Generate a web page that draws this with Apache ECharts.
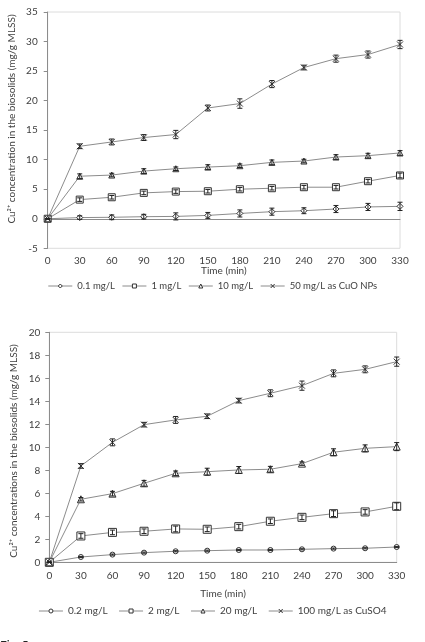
<!DOCTYPE html>
<html>
<head>
<meta charset="utf-8">
<script src="https://cdn.jsdelivr.net/npm/echarts@6/dist/echarts.min.js"></script>
<style>
  html, body { margin: 0; padding: 0; background: #fff; }
  #main { width: 425px; height: 642px; }
</style>
</head>
<body>
<div id="main"></div>
<script>
// time points (min), shared by both panels
const times = [0, 30, 60, 90, 120, 150, 180, 210, 240, 270, 300, 330];

// top panel: CuO NPs
const cuo01 = [0, 0.2, 0.25, 0.35, 0.4, 0.57, 0.9, 1.2, 1.36, 1.65, 2.0, 2.1];
const cuo1 = [0, 3.24, 3.64, 4.38, 4.6, 4.66, 5.0, 5.17, 5.34, 5.34, 6.36, 7.33];
const cuo10 = [0, 7.2, 7.4, 8.07, 8.47, 8.75, 8.98, 9.55, 9.77, 10.45, 10.68, 11.14];
const cuo50 = [0, 12.27, 13.0, 13.75, 14.26, 18.75, 19.5, 22.8, 25.6, 27.1, 27.8, 29.5];
const cuo01Err = [0, 0.3, 0.4, 0.4, 0.6, 0.5, 0.6, 0.6, 0.5, 0.6, 0.6, 0.7];
const cuo1Err = [0, 0.3, 0.3, 0.3, 0.3, 0.3, 0.3, 0.3, 0.3, 0.3, 0.3, 0.4];
const cuo10Err = [0, 0.4, 0.3, 0.4, 0.3, 0.4, 0.3, 0.4, 0.3, 0.4, 0.4, 0.4];
const cuo50Err = [0, 0.4, 0.5, 0.5, 0.7, 0.5, 0.8, 0.6, 0.4, 0.6, 0.6, 0.7];

// bottom panel: CuSO4
const so02 = [0, 0.46, 0.67, 0.84, 0.96, 1.01, 1.07, 1.07, 1.13, 1.19, 1.22, 1.33];
const so2 = [0, 2.29, 2.6, 2.7, 2.9, 2.87, 3.1, 3.57, 3.91, 4.23, 4.38, 4.87];
const so20 = [0, 5.48, 5.97, 6.87, 7.74, 7.88, 8.03, 8.09, 8.58, 9.57, 9.91, 10.06];
const so100 = [0, 8.38, 10.43, 11.97, 12.38, 12.7, 14.06, 14.7, 15.36, 16.43, 16.78, 17.45];
const so02Err = [0, 0.05, 0.05, 0.05, 0.05, 0.05, 0.05, 0.05, 0.05, 0.05, 0.05, 0.05];
const so2Err = [0, 0.2, 0.2, 0.2, 0.25, 0.2, 0.2, 0.2, 0.2, 0.25, 0.2, 0.3];
const so20Err = [0, 0.15, 0.2, 0.25, 0.2, 0.3, 0.3, 0.25, 0.15, 0.3, 0.3, 0.35];
const so100Err = [0, 0.2, 0.3, 0.2, 0.3, 0.2, 0.2, 0.3, 0.4, 0.3, 0.3, 0.4];

const topNames = ['0.1 mg/L', '1 mg/L', '10 mg/L', '50 mg/L as CuO NPs'];
const bottomNames = ['0.2 mg/L', '2 mg/L', '20 mg/L', '100 mg/L as CuSO4'];

const FONT = 'Lato';
const LINE = '#8c8c8c';
const MARK = '#333';
const crossPath = 'path://M0,0L10,10M10,0L0,10';

const pairs = (ys) => times.map((t, i) => [t, ys[i]]);
const errPairs = (ys, es) => times.map((t, i) => [t, ys[i] - es[i], ys[i] + es[i]]);

const lineSeries = (name, ys, symbol, size, idx) => ({
	name: name,
	type: 'line',
	xAxisIndex: idx,
	yAxisIndex: idx,
	data: pairs(ys),
	symbol: symbol,
	symbolSize: size,
	showAllSymbol: true,
	lineStyle: { color: LINE, width: 1 },
	itemStyle: { color: '#fff', borderColor: MARK, borderWidth: 1 },
	z: 3,
	animation: false,
});

// error bars with small caps
const errSeries = (name, ys, es, idx) => ({
	name: name + ' err',
	type: 'custom',
	xAxisIndex: idx,
	yAxisIndex: idx,
	data: errPairs(ys, es),
	encode: { x: 0, y: [1, 2] },
	z: 4,
	silent: true,
	animation: false,
	renderItem: (params, api) => {
		const lo = api.coord([api.value(0), api.value(1)]);
		const hi = api.coord([api.value(0), api.value(2)]);
		const w = 2.5;
		const st = { stroke: '#222', lineWidth: 1 };
		return {
			type: 'group',
			children: [
				{ type: 'line', shape: { x1: lo[0], y1: lo[1], x2: hi[0], y2: hi[1] }, style: st },
				{ type: 'line', shape: { x1: lo[0] - w, y1: lo[1], x2: lo[0] + w, y2: lo[1] }, style: st },
				{ type: 'line', shape: { x1: hi[0] - w, y1: hi[1], x2: hi[0] + w, y2: hi[1] }, style: st },
			],
		};
	},
});

const xAxisBase = (idx, gap, margin) => ({
	type: 'value',
	gridIndex: idx,
	min: 0,
	max: 330,
	interval: 30,
	name: 'Time (min)',
	nameLocation: 'middle',
	nameGap: gap,
	nameTextStyle: { fontFamily: FONT, fontSize: 10, color: '#404040' },
	axisLine: { onZero: true, lineStyle: { color: '#8c8c8c' } },
	axisTick: { show: false },
	axisLabel: { fontFamily: FONT, fontSize: 10, color: '#404040', margin: margin },
	splitLine: { show: false },
});

const yAxisBase = (idx, min, max, interval, margin) => ({
	type: 'value',
	gridIndex: idx,
	min: min,
	max: max,
	interval: interval,
	axisLine: { show: true, onZero: false, lineStyle: { color: '#8c8c8c' } },
	axisTick: { show: true, length: 4, lineStyle: { color: '#8c8c8c' } },
	axisLabel: { fontFamily: FONT, fontSize: 10, color: '#404040', margin: margin },
	splitLine: { show: false },
});

const legendBase = (names, top, gap, size) => ({
	data: names,
	top: top,
	left: 'center',
	itemWidth: 24,
	itemHeight: 5,
	itemGap: gap,
	itemStyle: { color: '#fff', borderColor: MARK, borderWidth: 1 },
	lineStyle: { color: LINE, width: 1 },
	textStyle: { fontFamily: FONT, fontSize: size, color: '#404040' },
});

const chart = echarts.init(document.getElementById('main'));
const option = {
	backgroundColor: '#fff',
	animation: false,
	grid: [
		{ left: 47.7, top: 12, right: 25, bottom: 393.7, show: true, borderColor: '#dcdcdc', borderWidth: 1, outerBoundsMode: 'none' },
		{ left: 49.3, top: 332.3, right: 28.3, bottom: 79.7, show: true, borderColor: '#dcdcdc', borderWidth: 1, outerBoundsMode: 'none' },
	],
	xAxis: [xAxisBase(0, 11, 7), xAxisBase(1, 26, 8)],
	yAxis: [yAxisBase(0, -5, 35, 5, 10), yAxisBase(1, 0, 20, 2, 9)],
	legend: [legendBase(topNames, 276, 7, 9.5), legendBase(bottomNames, 601, 11, 10)],
	graphic: [
		{
			type: 'text',
			x: 12,
			y: 119,
			rotation: Math.PI / 2,
			style: {
				text: 'Cu²⁺ concentration in the biosolids (mg/g MLSS)',
				font: '10px ' + FONT,
				fill: '#404040',
				textAlign: 'center',
				textVerticalAlign: 'middle',
			},
		},
		{
			type: 'text',
			x: 14,
			y: 451,
			rotation: Math.PI / 2,
			style: {
				text: 'Cu²⁺ concentrations in the biosolids (mg/g MLSS)',
				font: '10px ' + FONT,
				fill: '#404040',
				textAlign: 'center',
				textVerticalAlign: 'middle',
			},
		},
		{
			type: 'text',
			left: 0,
			top: 639,
			style: { text: 'Fig. 5', font: '12px ' + FONT, fill: '#222' },
		},
	],
	series: [
		lineSeries(topNames[0], cuo01, 'diamond', 6, 0),
		lineSeries(topNames[1], cuo1, 'rect', 7, 0),
		lineSeries(topNames[2], cuo10, 'triangle', 6, 0),
		lineSeries(topNames[3], cuo50, crossPath, 6, 0),
		errSeries(topNames[0], cuo01, cuo01Err, 0),
		errSeries(topNames[1], cuo1, cuo1Err, 0),
		errSeries(topNames[2], cuo10, cuo10Err, 0),
		errSeries(topNames[3], cuo50, cuo50Err, 0),
		lineSeries(bottomNames[0], so02, 'circle', 5, 1),
		lineSeries(bottomNames[1], so2, 'rect', 8, 1),
		lineSeries(bottomNames[2], so20, 'triangle', 7, 1),
		lineSeries(bottomNames[3], so100, crossPath, 6, 1),
		errSeries(bottomNames[0], so02, so02Err, 1),
		errSeries(bottomNames[1], so2, so2Err, 1),
		errSeries(bottomNames[2], so20, so20Err, 1),
		errSeries(bottomNames[3], so100, so100Err, 1),
	],
};
chart.setOption(option);
</script>
</body>
</html>
